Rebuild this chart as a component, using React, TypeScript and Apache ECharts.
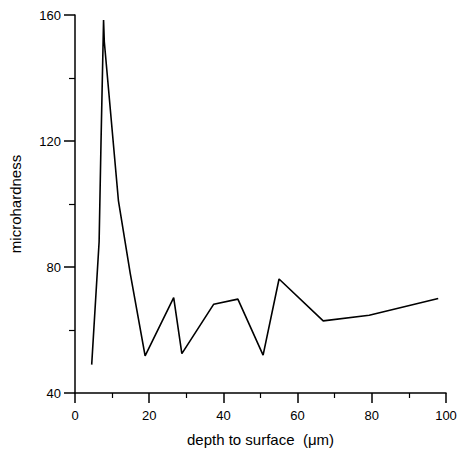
import React, { useEffect, useRef } from "react";
import * as echarts from "echarts";

const depth = [4.5, 6.5, 7.0, 7.7, 7.9, 11.7, 14.9, 18.9, 26.6, 28.8, 37.4, 43.9, 50.7, 55.0, 66.9, 79.3, 97.9];
const hardness = [49, 88, 119, 158.4, 151.5, 101.1, 77.9, 51.8, 70.3, 52.5, 68.2, 69.8, 52.0, 76.2, 62.9, 64.7, 70.0];

const xName = "depth to surface  (\u03bcm)";
const yName = "microhardness";

export default function App() {
  const ref = useRef<HTMLDivElement>(null);
  useEffect(() => {
    if (!ref.current) return;
    const chart = echarts.init(ref.current, undefined, { renderer: "svg" });
    const font = "Liberation Sans, Arial, sans-serif";
    chart.setOption({
      animation: false,
      grid: { left: 75, right: 14, top: 15, bottom: 58, outerBoundsMode: "none", containLabel: false },
      xAxis: {
        type: "value",
        min: 0,
        max: 100,
        interval: 20,
        name: xName,
        nameLocation: "middle",
        nameGap: 39,
        nameTextStyle: { color: "#000", fontSize: 15, fontFamily: font },
        axisLine: { show: true, lineStyle: { color: "#000", width: 1.5 } },
        axisTick: { show: true, inside: false, length: 10, lineStyle: { color: "#000", width: 1.5 } },
        minorTick: { show: true, splitNumber: 2, length: 5, lineStyle: { color: "#000", width: 1.2 } },
        axisLabel: { color: "#000", fontSize: 13, fontFamily: font, margin: 16 },
        splitLine: { show: false },
      },
      yAxis: {
        type: "value",
        min: 40,
        max: 160,
        interval: 40,
        name: yName,
        nameLocation: "middle",
        nameGap: 52,
        nameTextStyle: { color: "#000", fontSize: 15, fontFamily: font },
        axisLine: { show: true, lineStyle: { color: "#000", width: 1.5 } },
        axisTick: { show: true, inside: false, length: 11, lineStyle: { color: "#000", width: 1.5 } },
        minorTick: { show: true, splitNumber: 2, length: 6, lineStyle: { color: "#000", width: 1.2 } },
        axisLabel: { color: "#000", fontSize: 13, fontFamily: font, margin: 14 },
        splitLine: { show: false },
      },
      series: [
        {
          type: "line",
          data: depth.map((d, i) => [d, hardness[i]]),
          showSymbol: false,
          lineStyle: { color: "#000", width: 1.6 },
        },
      ],
    });
    return () => chart.dispose();
  }, []);
  return <div ref={ref} style={{ width: 460, height: 451, position: "absolute", left: 0, top: 0 }} />;
}
